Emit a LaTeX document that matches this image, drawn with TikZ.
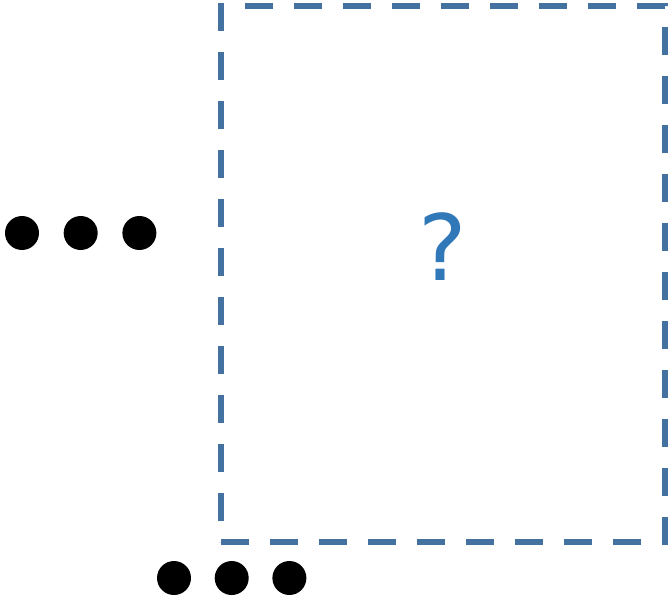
\documentclass[tikz,border=0pt]{standalone}
\usepackage{fontspec}
\newfontfamily\qfont{DejaVu Sans}
\usetikzlibrary{positioning}
\definecolor{boxblue}{RGB}{68,114,160}
\definecolor{qblue}{RGB}{48,120,184}

\begin{document}
\begin{tikzpicture}[
  x=0.02cm, y=-0.02cm,
  slot/.style={
    draw=boxblue,
    line width=0.12cm,
    dash pattern=on 0.56cm off 0.42cm,
    minimum width=8.88cm,
    minimum height=10.72cm,
    inner sep=0pt
  },
  query/.style={
    text=qblue,
    font=\qfont\fontsize{52}{60}\selectfont,
    inner sep=0pt
  },
  dot/.style={
    circle,
    fill=black,
    minimum size=0.68cm,
    inner sep=0pt
  }
]
\useasboundingbox (0,0) rectangle (671,598);
\node[slot] (box) at (443,274) {};
\node[query] (q) at (443,247) {?};
% dots on the left
\node[dot] (l1) at (22,233) {};
\node[dot,right=0.48cm of l1] (l2) {};
\node[dot,right=0.48cm of l2] (l3) {};
% dots below
\node[dot] (b1) at (174,578) {};
\node[dot,right=0.46cm of b1] (b2) {};
\node[dot,right=0.46cm of b2] (b3) {};
\end{tikzpicture}
\end{document}
